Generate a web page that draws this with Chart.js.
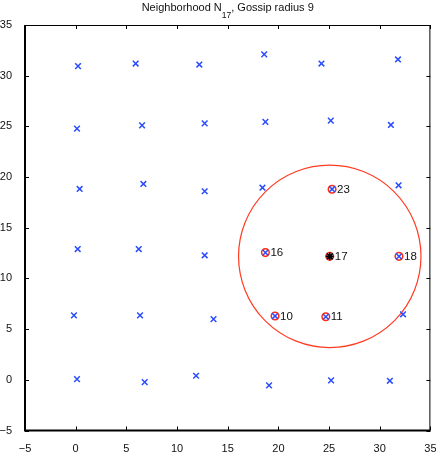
<!DOCTYPE html>
<html>
<head>
<meta charset="utf-8">
<script src="https://cdn.jsdelivr.net/npm/chart.js@4/dist/chart.umd.min.js"></script>
<style>
  html, body { margin: 0; padding: 0; background: #fff; }
  #wrap { width: 436px; height: 452px; }
</style>
</head>
<body>
<div id="wrap"><canvas id="c" width="436" height="452"></canvas></div>
<script>
// ---- data ----
const nodeIds = [
  1, 2, 3, 4, 5, 6,
  7, 8, 9, 10, 11, 12,
  13, 14, 15, 16, 17, 18,
  19, 20, 21, 22, 23, 24,
  25, 26, 27, 28, 29, 30,
  31, 32, 33, 34, 35, 36
];
const nodeX = [
  0.13, 6.81, 11.88, 19.08, 25.2, 31.0,
  -0.17, 6.35, 13.6, 19.67, 24.68, 32.3,
  0.2, 6.22, 12.73, 18.72, 25.07, 31.9,
  0.39, 6.68, 12.73, 18.43, 25.3, 31.86,
  0.13, 6.55, 12.73, 18.72, 25.17, 31.1,
  0.23, 5.92, 12.2, 18.6, 24.25, 31.8
];
const nodeY = [
  0.07, -0.23, 0.40, -0.55, -0.06, -0.1,
  6.36, 6.36, 5.99, 6.29, 6.22, 6.46,
  12.9, 12.9, 12.28, 12.55, 12.18, 12.18,
  18.83, 19.32, 18.6, 18.95, 18.8, 19.19,
  24.78, 25.1, 25.3, 25.44, 25.57, 25.14,
  30.94, 31.2, 31.1, 32.1, 31.2, 31.6
];
const neighborIds = [10, 11, 16, 17, 18, 23];
const centerId = 17;
const gossipRadius = 9;
const xTicks = [-5, 0, 5, 10, 15, 20, 25, 30, 35];
const yTicks = [-5, 0, 5, 10, 15, 20, 25, 30, 35];
const titleMain = 'Neighborhood N';
const titleSub = '17';
const titleRest = ', Gossip radius 9';

// ---- derived datasets ----
const pt = id => { const i = nodeIds.indexOf(id); return { x: nodeX[i], y: nodeY[i], id }; };
const allPts = nodeIds.map(pt);
const nbPts = neighborIds.map(pt);
const centerPts = [pt(centerId)];

const FONT = '"Liberation Sans", Arial, Helvetica, sans-serif';
const fmt = v => String(v).replace('-', '\u2212');

const framePlugin = {
  id: 'frame',
  beforeDatasetsDraw(chart) {
    const { ctx, scales: { x, y } } = chart;
    const c = pt(centerId);
    const cx = x.getPixelForValue(c.x), cy = y.getPixelForValue(c.y);
    const rx = Math.abs(x.getPixelForValue(c.x + gossipRadius) - cx);
    const ry = Math.abs(y.getPixelForValue(c.y + gossipRadius) - cy);
    ctx.save();
    ctx.strokeStyle = '#ff3b22';
    ctx.lineWidth = 1.2;
    ctx.beginPath();
    ctx.ellipse(cx, cy, rx, ry, 0, 0, Math.PI * 2);
    ctx.stroke();
    ctx.restore();
  },
  afterDatasetsDraw(chart) {
    const { ctx, chartArea: a, scales: { x, y } } = chart;
    ctx.save();
    // node labels
    ctx.fillStyle = '#111';
    ctx.font = '11.5px ' + FONT;
    ctx.textAlign = 'left';
    ctx.textBaseline = 'middle';
    nbPts.forEach(p => {
      ctx.fillText(String(p.id), x.getPixelForValue(p.x) + 5, y.getPixelForValue(p.y) + 0.5);
    });
    // frame
    ctx.strokeStyle = '#000';
    ctx.lineWidth = 1;
    ctx.beginPath();
    ctx.moveTo(a.left, a.top + 0.5); ctx.lineTo(a.right, a.top + 0.5);
    ctx.moveTo(a.right - 0.5, a.top); ctx.lineTo(a.right - 0.5, a.bottom);
    ctx.stroke();
    ctx.lineWidth = 2;
    ctx.beginPath();
    ctx.moveTo(a.left, a.top); ctx.lineTo(a.left, a.bottom);
    ctx.lineTo(a.right, a.bottom);
    ctx.stroke();
    // inside ticks
    ctx.lineWidth = 1;
    ctx.beginPath();
    const tl = 4;
    xTicks.forEach(v => {
      const px = Math.round(x.getPixelForValue(v)) + 0.5;
      ctx.moveTo(px, a.bottom); ctx.lineTo(px, a.bottom - tl);
      ctx.moveTo(px, a.top); ctx.lineTo(px, a.top + tl);
    });
    yTicks.forEach(v => {
      const py = Math.round(y.getPixelForValue(v)) + 0.5;
      ctx.moveTo(a.left, py); ctx.lineTo(a.left + tl, py);
      ctx.moveTo(a.right, py); ctx.lineTo(a.right - tl, py);
    });
    ctx.stroke();
    // title with subscript
    const fMain = '11px ' + FONT, fSub = '8.5px ' + FONT;
    ctx.fillStyle = '#111';
    ctx.textBaseline = 'alphabetic';
    ctx.font = fMain;
    const w1 = ctx.measureText(titleMain).width;
    const w3 = ctx.measureText(titleRest).width;
    ctx.font = fSub;
    const w2 = ctx.measureText(titleSub).width;
    let tx = (a.left + a.right) / 2 - (w1 + w2 + w3) / 2;
    const ty = 11;
    ctx.font = fMain; ctx.textAlign = 'left';
    ctx.fillText(titleMain, tx, ty); tx += w1;
    ctx.font = fSub;
    ctx.fillText(titleSub, tx, ty + 7); tx += w2;
    ctx.font = fMain;
    ctx.fillText(titleRest, tx, ty);
    ctx.restore();
  }
};

new Chart(document.getElementById('c'), {
  type: 'scatter',
  data: {
    datasets: [
      {
        label: 'center',
        data: centerPts,
        pointStyle: 'star',
        pointRadius: 4,
        borderColor: '#000',
        backgroundColor: '#000',
        pointBorderWidth: 1.6,
        order: 0
      },
      {
        label: 'nodes',
        data: allPts,
        pointStyle: 'crossRot',
        pointRadius: 4,
        borderColor: '#2a4cff',
        backgroundColor: '#2a4cff',
        pointBorderWidth: 1.5,
        order: 1
      },
      {
        label: 'neighbors',
        data: nbPts,
        pointStyle: 'circle',
        pointRadius: 3.8,
        borderColor: '#ff2a10',
        backgroundColor: 'rgba(0,0,0,0)',
        pointBorderWidth: 1.5,
        order: 2
      }
    ]
  },
  options: {
    responsive: false,
    animation: false,
    devicePixelRatio: 1,
    layout: { padding: { top: 25, right: 5, left: 0, bottom: 0 } },
    plugins: { legend: { display: false }, tooltip: { enabled: false }, title: { display: false } },
    scales: {
      x: {
        type: 'linear', min: -5, max: 35,
        afterBuildTicks: s => { s.ticks = xTicks.map(v => ({ value: v })); },
        ticks: { color: '#111', font: { size: 11, family: FONT }, padding: 4, maxRotation: 0, callback: fmt },
        grid: { display: false },
        border: { display: false },
        afterFit: s => { s.height = 21.5; s.paddingLeft = 0; s.paddingRight = 0; }
      },
      y: {
        type: 'linear', min: -5, max: 35,
        afterBuildTicks: s => { s.ticks = yTicks.map(v => ({ value: v })); },
        ticks: { color: '#111', font: { size: 11, family: FONT }, padding: 5, callback: fmt },
        grid: { display: false },
        border: { display: false },
        afterFit: s => { s.width = 25; s.paddingTop = 0; s.paddingBottom = 0; }
      }
    }
  },
  plugins: [framePlugin]
});
</script>
</body>
</html>
